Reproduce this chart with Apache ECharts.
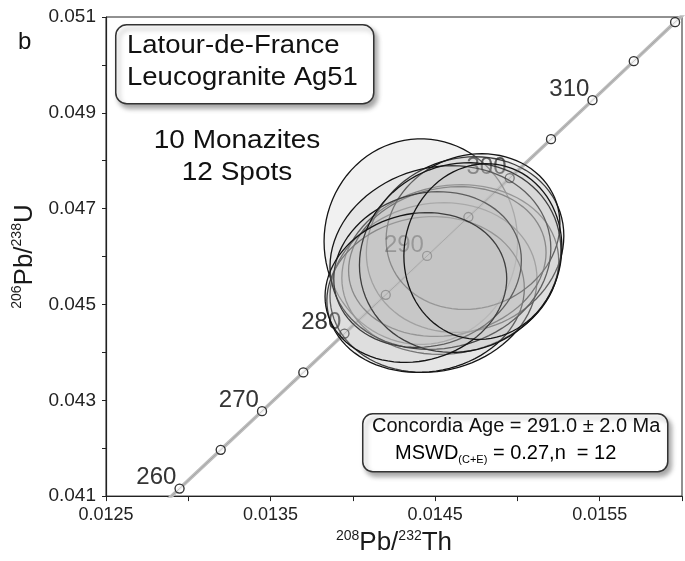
<!DOCTYPE html>
<html>
<head>
<meta charset="utf-8">
<script src="https://cdn.jsdelivr.net/npm/echarts@6/dist/echarts.min.js"></script>
<style>
html, body { margin: 0; padding: 0; background: #fff; }
#main { width: 685px; height: 561px; }
</style>
</head>
<body>
<div id="main"></div>
<script>
// concordia age marks (Ma) with their 208Pb/232Th and 206Pb/238U ratios
var ages = [255, 260, 265, 270, 275, 280, 285, 290, 295, 300, 305, 310, 315, 320, 325];
var thPb = [0.012696, 0.012947, 0.013197, 0.013448, 0.013699, 0.013949, 0.014200, 0.014451,
            0.014702, 0.014953, 0.015204, 0.015456, 0.015707, 0.015958, 0.016209];
var uPb = [0.040350, 0.041157, 0.041965, 0.042773, 0.043582, 0.044392, 0.045202, 0.046013,
           0.046825, 0.047637, 0.048450, 0.049264, 0.050078, 0.050893, 0.051708];
var labelAges = [260, 270, 280, 290, 300, 310];

// monazite spots: centre, 2s errors, error correlation
var spotX = [0.014413, 0.014592, 0.014490, 0.014682, 0.014574, 0.014442,
             0.014730, 0.014532, 0.014454, 0.014652, 0.014383, 0.014790];
var spotY = [0.046313, 0.045729, 0.045354, 0.046250, 0.045896, 0.045208,
             0.046521, 0.045979, 0.045729, 0.045979, 0.045354, 0.046104];
var errX = [0.000588, 0.000659, 0.000629, 0.000600, 0.000600, 0.000600,
            0.000528, 0.000671, 0.000570, 0.000612, 0.000552, 0.000480];
var errY = [0.002146, 0.001771, 0.001771, 0.001833, 0.001563, 0.001625,
            0.001625, 0.001917, 0.001625, 0.001979, 0.001563, 0.001833];
var rho = [0.0, 0.1, 0.1, 0.1, 0.12, 0.08, 0.1, 0.1, 0.12, 0.08, 0.12, 0.05];

// axis ticks
var xTicks = { min: 0.0125, max: 0.0160, step: 0.0005 };
var yTicks = { min: 0.041, max: 0.051, step: 0.001 };

var FONT = '"Liberation Sans", Arial, sans-serif';

var curve = ages.map(function (a, i) { return [thPb[i], uPb[i], a]; });
var marks = curve.filter(function (d) { return d[2] >= 260 && d[2] <= 320; });
var spots = spotX.map(function (x, i) { return [x, spotY[i], errX[i], errY[i], rho[i]]; });

var chart = echarts.init(document.getElementById('main'));

function ellipse(params, api) {
    var cx = api.value(0), cy = api.value(1), sx = api.value(2), sy = api.value(3), r = api.value(4);
    var pts = [];
    for (var k = 0; k < 90; k++) {
        var t = k / 90 * Math.PI * 2;
        var c = Math.cos(t), s = Math.sin(t);
        pts.push(api.coord([cx + sx * c, cy + sy * (r * c + Math.sqrt(1 - r * r) * s)]));
    }
    return {
        type: 'polygon',
        shape: { points: pts },
        style: { fill: 'rgba(196,196,196,0.24)', stroke: '#151515', lineWidth: 1.3 }
    };
}

function ageLabel(p) {
    return labelAges.indexOf(p.value[2]) >= 0 ? String(p.value[2]) : '';
}

var option = {
    animation: false,
    backgroundColor: '#fff',
    grid: {
        left: 106, top: 17, width: 584, height: 480,
        show: true, borderColor: '#222', borderWidth: 1
    },
    xAxis: {
        type: 'value',
        min: xTicks.min, max: xTicks.max, interval: xTicks.step,
        name: '{s|208}{m|Pb/}{s|232}{m|Th}',
        nameLocation: 'middle', nameGap: 30,
        nameTextStyle: {
            rich: {
                s: { fontSize: 14, fontFamily: FONT, color: '#1a1a1a', verticalAlign: 'top', lineHeight: 28 },
                m: { fontSize: 26, fontFamily: FONT, color: '#1a1a1a', lineHeight: 28 }
            }
        },
        axisLine: { lineStyle: { color: '#222', width: 1.2 } },
        axisTick: { length: 5, lineStyle: { color: '#222' } },
        splitLine: { show: false },
        axisLabel: {
            margin: 10, fontSize: 18, fontFamily: FONT, color: '#222',
            formatter: function (v) {
                return Math.round(v / xTicks.step) % 2 === 1 ? v.toFixed(4) : '';
            }
        }
    },
    yAxis: {
        type: 'value',
        min: yTicks.min, max: yTicks.max, interval: yTicks.step,
        name: '{s|206}{m|Pb/}{s|238}{m|U}',
        nameLocation: 'middle', nameGap: 62, nameRotate: 90,
        nameTextStyle: {
            rich: {
                s: { fontSize: 14, fontFamily: FONT, color: '#1a1a1a', verticalAlign: 'top', lineHeight: 28 },
                m: { fontSize: 26, fontFamily: FONT, color: '#1a1a1a', lineHeight: 28 }
            }
        },
        axisLine: { lineStyle: { color: '#222', width: 1.2 } },
        axisTick: { length: 4, lineStyle: { color: '#222' } },
        splitLine: { show: false },
        axisLabel: {
            margin: 10, fontSize: 19, fontFamily: FONT, color: '#222',
            formatter: function (v) {
                return Math.round(v / yTicks.step) % 2 === 1 ? v.toFixed(3) : '';
            }
        }
    },
    series: [
        {
            // concordia curve
            type: 'line',
            data: curve,
            showSymbol: false,
            lineStyle: { color: '#bdbdbd', width: 3.5 },
            z: 1,
            silent: true
        },
        {
            type: 'scatter',
            data: marks,
            symbol: 'circle',
            symbolSize: 9,
            itemStyle: { color: '#fff', borderColor: '#111', borderWidth: 1.3 },
            label: {
                show: true, position: 'left', distance: -2, offset: [0, -11],
                fontSize: 24, fontFamily: FONT, color: '#111',
                formatter: ageLabel
            },
            z: 2
        },
        {
            // spot error ellipses
            type: 'custom',
            data: spots,
            renderItem: ellipse,
            encode: { x: 0, y: 1 },
            z: 3
        },
        {
            // concordia seen through the ellipses
            type: 'line',
            data: curve,
            showSymbol: false,
            lineStyle: { color: '#777', width: 1, opacity: 0.35 },
            z: 4,
            silent: true
        },
        {
            type: 'scatter',
            data: marks,
            symbol: 'circle',
            symbolSize: 9,
            itemStyle: { color: 'rgba(0,0,0,0)', borderColor: 'rgba(0,0,0,0.25)', borderWidth: 1.3 },
            label: {
                show: true, position: 'left', distance: -2, offset: [0, -11],
                fontSize: 24, fontFamily: FONT, color: 'rgba(0,0,0,0.25)',
                formatter: ageLabel
            },
            z: 5
        }
    ],
    graphic: [
        {
            type: 'text', left: 18, top: 30,
            style: { text: 'b', font: '24px ' + FONT, fill: '#111' }
        },
        {
            type: 'rect', left: 115, top: 24, z: 10,
            shape: { width: 258, height: 79, r: 11 },
            style: {
                fill: '#fff', stroke: '#333', lineWidth: 1.5,
                shadowBlur: 5, shadowOffsetX: 3, shadowOffsetY: 4, shadowColor: 'rgba(0,0,0,0.35)'
            }
        },
        {
            type: 'text', x: 127, y: 30, scaleX: 1.1, z: 11,
            style: { text: 'Latour-de-France\nLeucogranite Ag51', font: '25px ' + FONT, fill: '#111', lineHeight: 32 }
        },
        {
            type: 'text', x: 237, y: 125, scaleX: 1.12, z: 11,
            style: { text: '10 Monazites\n12 Spots', font: '25px ' + FONT, fill: '#111', lineHeight: 32, align: 'center' }
        },
        {
            type: 'rect', left: 362, top: 413, z: 10,
            shape: { width: 305, height: 58, r: 10 },
            style: {
                fill: '#fff', stroke: '#333', lineWidth: 1.5,
                shadowBlur: 5, shadowOffsetX: 3, shadowOffsetY: 4, shadowColor: 'rgba(0,0,0,0.35)'
            }
        },
        {
            type: 'text', x: 372, y: 416, z: 11,
            style: { text: 'Concordia Age = 291.0 \u00b1 2.0 Ma', font: '20px ' + FONT, fill: '#111' }
        },
        {
            type: 'text', x: 395, y: 441, z: 11,
            style: {
                text: '{a|MSWD}{b|(C+E)}{a| = 0.27,n  = 12}',
                rich: {
                    a: { fontSize: 20, fontFamily: FONT, color: '#111', lineHeight: 24 },
                    b: { fontSize: 11, fontFamily: FONT, color: '#111', verticalAlign: 'bottom', lineHeight: 24 }
                }
            }
        }
    ]
};
chart.setOption(option);
</script>
</body>
</html>
